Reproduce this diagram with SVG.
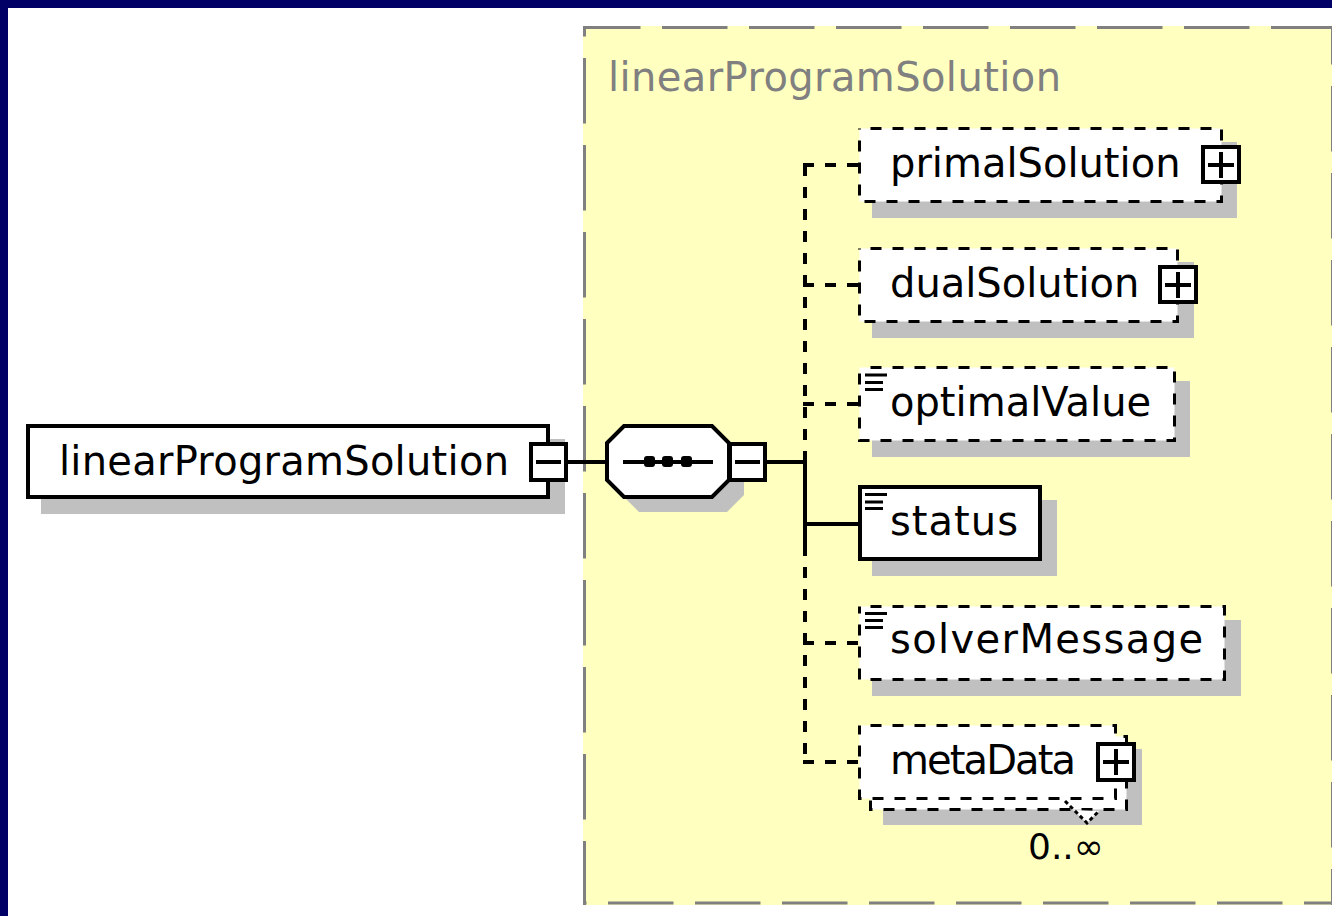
<svg xmlns="http://www.w3.org/2000/svg" width="1332" height="916" viewBox="0 0 1332 916">
  <style>
    .lbl{font-family:"DejaVu Sans",Verdana,sans-serif;font-size:40px;fill:#000}
    .title{font-family:"DejaVu Sans",Verdana,sans-serif;font-size:40px;fill:#808080}
    .occ{font-family:"DejaVu Sans",Verdana,sans-serif;font-size:36px;fill:#000}
    .shadow{fill:#C0C0C0}
    .box{fill:#fff;stroke:#000;stroke-width:4}
    .dbox{fill:#fff;stroke:#000;stroke-width:3;stroke-dasharray:11 11;stroke-dashoffset:11}
    .ln{stroke:#000;stroke-width:4;fill:none}
    .dln{stroke:#000;stroke-width:4;fill:none;stroke-dasharray:11 11}
    .icon{stroke:#000;stroke-width:3}
    .frame{stroke:#808080;stroke-width:3;fill:none;stroke-dasharray:65.5 21.5}
  </style>

  <!-- page background and window border -->
  <rect x="0" y="0" width="1332" height="916" fill="#fff"/>
  <rect x="0" y="0" width="1332" height="8" fill="#000066"/>
  <rect x="0" y="0" width="8" height="916" fill="#000066"/>

  <!-- complex type container -->
  <g id="type-container">
    <rect x="583" y="26" width="760" height="879" fill="#FFFFC0"/>
    <path class="frame" d="M583 27.5 H1332" stroke-dashoffset="8"/>
    <path class="frame" d="M584.5 26 V905" stroke-dashoffset="55"/>
    <path class="frame" d="M583 903 H1332" stroke-dashoffset="62"/>
    <path class="frame" d="M1332.5 27 V905" stroke-dashoffset="28"/>
    <text class="title" x="608" y="91" textLength="453" lengthAdjust="spacing">linearProgramSolution</text>
  </g>

  <!-- connectors -->
  <g id="connectors">
    <path class="ln" d="M568 462 H607"/>
    <path class="ln" d="M767 462 H805"/>
    <path class="dln" d="M805 165 V453"/>
    <path class="ln" d="M805 453 V545"/>
    <path class="dln" d="M805 545 V762"/>
    <path class="dln" d="M803 165 H858"/>
    <path class="dln" d="M803 285 H858"/>
    <path class="dln" d="M803 404 H858"/>
    <path class="ln" d="M805 524 H858"/>
    <path class="dln" d="M803 643 H858"/>
    <path class="dln" d="M803 762 H858"/>
  </g>

  <!-- root element -->
  <g id="node-root">
    <rect class="shadow" x="41" y="439" width="524" height="75"/>
    <rect class="box" x="28" y="426" width="520" height="71"/>
    <text class="lbl" x="59" y="475" textLength="450" lengthAdjust="spacing">linearProgramSolution</text>
    <rect class="box" x="531" y="444" width="35" height="36"/>
    <path class="ln" d="M536 462 H561"/>
  </g>

  <!-- sequence compositor -->
  <g id="node-sequence">
    <polygon class="shadow" points="622,458 639,441 727,441 744,458 744,495 727,512 639,512 622,495"/>
    <polygon class="box" points="607,443 624,426 712,426 729,443 729,480 712,497 624,497 607,480"/>
    <path class="ln" d="M623 462 H713"/>
    <rect x="644" y="456" width="11" height="11" rx="3" fill="#000"/>
    <rect x="662" y="456" width="11" height="11" rx="3" fill="#000"/>
    <rect x="681" y="456" width="11" height="11" rx="3" fill="#000"/>
    <rect class="box" x="730" y="444" width="35" height="36"/>
    <path class="ln" d="M735 462 H760"/>
  </g>

  <!-- primalSolution -->
  <g id="node-primalSolution">
    <rect class="shadow" x="872" y="142" width="365" height="76"/>
    <rect class="dbox" x="859.5" y="128.5" width="362" height="73"/>
    <text class="lbl" x="890" y="177">primalSolution</text>
    <rect class="box" x="1203" y="147" width="36" height="35"/>
    <path class="ln" d="M1208 165 H1234 M1221 152 V178"/>
  </g>

  <!-- dualSolution -->
  <g id="node-dualSolution">
    <rect class="shadow" x="872" y="262" width="322" height="76"/>
    <rect class="dbox" x="859.5" y="248.5" width="318" height="73"/>
    <text class="lbl" x="890" y="297">dualSolution</text>
    <rect class="box" x="1160" y="267" width="36" height="35"/>
    <path class="ln" d="M1165 285 H1191 M1178 272 V298"/>
  </g>

  <!-- optimalValue -->
  <g id="node-optimalValue">
    <rect class="shadow" x="872" y="381" width="318" height="76"/>
    <rect class="dbox" x="859.5" y="367.5" width="315" height="73"/>
    <path class="icon" d="M865 375 H887 M865 382.5 H883 M865 389.5 H883"/>
    <text class="lbl" x="890" y="416">optimalValue</text>
  </g>

  <!-- status -->
  <g id="node-status">
    <rect class="shadow" x="872" y="500" width="185" height="76"/>
    <rect class="box" x="860" y="487" width="180" height="72"/>
    <path class="icon" d="M865 494.5 H887 M865 502 H883 M865 508.5 H883"/>
    <text class="lbl" x="890" y="535" textLength="128" lengthAdjust="spacing">status</text>
  </g>

  <!-- solverMessage -->
  <g id="node-solverMessage">
    <rect class="shadow" x="872" y="620" width="369" height="76"/>
    <rect class="dbox" x="859.5" y="606.5" width="365" height="73"/>
    <path class="icon" d="M865 613.5 H887 M865 620.5 H883 M865 627.5 H883"/>
    <text class="lbl" x="890" y="653" textLength="313" lengthAdjust="spacing">solverMessage</text>
  </g>

  <!-- metaData (repeating element) -->
  <g id="node-metaData">
    <rect class="shadow" x="883" y="749" width="259" height="76"/>
    <rect class="dbox" x="870.5" y="736.5" width="256" height="73"/>
    <rect class="dbox" x="859.5" y="725.5" width="256" height="73"/>
    <polygon points="1073,810 1087,823 1099,811" fill="#fff"/>
    <polyline points="1065,801 1087,823 1099,811" fill="none" stroke="#000" stroke-width="3" stroke-dasharray="4 3"/>
    <text class="lbl" x="890" y="774" textLength="186" lengthAdjust="spacing">metaData</text>
    <rect class="box" x="1098" y="744" width="36" height="36"/>
    <path class="ln" d="M1103 762 H1129 M1116 749 V775"/>
    <text class="occ" x="1028" y="859">0..∞</text>
  </g>
</svg>
